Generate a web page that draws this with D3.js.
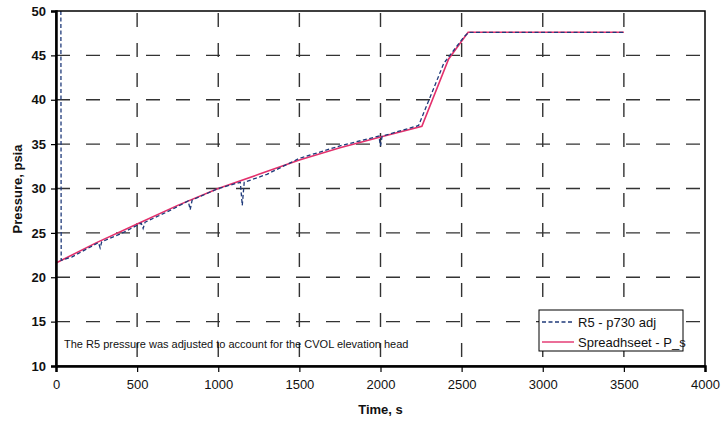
<!DOCTYPE html>
<html>
<head>
<meta charset="utf-8">
<script src="https://cdn.jsdelivr.net/npm/d3@7"></script>
<style>
  body { margin: 0; background: #fff; }
  text { font-family: "Liberation Sans", Arial, sans-serif; fill: #111; }
</style>
</head>
<body>
<div id="chart"></div>
<script>
// Spreadsheet series (solid pink)
const sheetTime = [0, 250, 500, 750, 1000, 1250, 1500, 1750, 2000, 2255, 2420, 2540, 3500];
const sheetP    = [21.6, 23.9, 26.0, 28.1, 30.0, 31.6, 33.2, 34.6, 35.8, 37.0, 44.6, 47.6, 47.6];

// R5 measured series (dashed navy)
const r5Time = [30, 32, 100, 200, 262, 272, 282, 400, 525, 537, 549, 700, 815, 827, 839, 1000,
                1136, 1148, 1160, 1300, 1500, 1750, 1990, 2000, 2010, 2235, 2390, 2515, 2545, 3500];
const r5P    = [50, 21.9, 22.3, 23.3, 23.9, 23.3, 24.0, 24.9, 26.1, 25.5, 26.2, 27.5, 28.6, 27.6, 28.7, 30.0,
                30.7, 28.1, 30.7, 31.6, 33.4, 34.8, 35.9, 34.8, 35.9, 37.1, 44.1, 47.1, 47.6, 47.6];

const xTicks = [0, 500, 1000, 1500, 2000, 2500, 3000, 3500, 4000];
const yTicks = [10, 15, 20, 25, 30, 35, 40, 45, 50];
const legendNames = ["R5 - p730 adj", "Spreadhseet - P_s"];
const note = "The R5 pressure was adjusted to account for the CVOL elevation head";

const W = 721, H = 422;
const margin = {top: 11, right: 16, bottom: 56, left: 56};
const w = W - margin.left - margin.right;
const h = H - margin.top - margin.bottom;

const svg = d3.select('#chart').append('svg')
  .attr('width', W).attr('height', H);

const g = svg.append('g')
  .attr('transform', `translate(${margin.left},${margin.top})`);

const xScale = d3.scaleLinear().domain([0, 4000]).range([0, w]);
const yScale = d3.scaleLinear().domain([10, 50]).range([h, 0]);

// grid lines
const gridColor = '#333';
g.append('g').selectAll('line')
  .data(yTicks.filter(d => d > 10 && d < 50))
  .enter().append('line')
    .attr('x1', 0).attr('x2', w)
    .attr('y1', d => yScale(d)).attr('y2', d => yScale(d))
    .attr('stroke', gridColor).attr('stroke-width', 1.4)
    .attr('stroke-dasharray', '14,16');

g.append('g').selectAll('line')
  .data(xTicks.filter(d => d > 0 && d < 4000))
  .enter().append('line')
    .attr('x1', d => xScale(d)).attr('x2', d => xScale(d))
    .attr('y1', 2).attr('y2', h)
    .attr('stroke', gridColor).attr('stroke-width', 1.4)
    .attr('stroke-dasharray', '14,16');

// series
const line = d3.line()
  .x(d => xScale(d[0]))
  .y(d => yScale(d[1]));

const r5Data = r5Time.map((t, i) => [t, r5P[i]]);
const sheetData = sheetTime.map((t, i) => [t, sheetP[i]]);

g.append('path')
  .attr('d', line(sheetData))
  .attr('fill', 'none')
  .attr('stroke', '#e3306c')
  .attr('stroke-width', 1.6);

g.append('path')
  .attr('d', line(r5Data))
  .attr('fill', 'none')
  .attr('stroke', '#1f3a7a')
  .attr('stroke-width', 1.3)
  .attr('stroke-dasharray', '4,2.5');

// frame
g.append('rect')
  .attr('x', 0).attr('y', 0).attr('width', w).attr('height', h)
  .attr('fill', 'none').attr('stroke', '#000').attr('stroke-width', 1.5);

// axes
const xAxis = d3.axisBottom(xScale).tickValues(xTicks).tickSize(6).tickPadding(8)
  .tickFormat(d3.format('d'));
const yAxis = d3.axisLeft(yScale).tickValues(yTicks).tickSize(5).tickPadding(5);

const xg = g.append('g').attr('transform', `translate(0,${h})`).call(xAxis);
const yg = g.append('g').call(yAxis);

[xg, yg].forEach(a => {
  a.select('.domain').attr('stroke', '#000').attr('stroke-width', 2.5);
  a.selectAll('.tick line').attr('stroke', '#000').attr('stroke-width', 1.2);
  a.selectAll('.tick text')
    .style('font-family', '"Liberation Sans", Arial, sans-serif')
    .style('font-size', '13px').attr('fill', '#111');
});
yg.selectAll('.tick text').style('font-weight', 'bold');

// axis titles
svg.append('text')
  .attr('x', margin.left + w / 2).attr('y', 414)
  .attr('text-anchor', 'middle')
  .style('font-size', '13px').style('font-weight', 'bold')
  .text('Time, s');

svg.append('text')
  .attr('transform', `translate(22,${189}) rotate(-90)`)
  .attr('text-anchor', 'middle')
  .style('font-size', '13px').style('font-weight', 'bold')
  .text('Pressure, psia');

// note
svg.append('text')
  .attr('x', 64).attr('y', 348)
  .style('font-size', '11px')
  .text(note);

// legend
const legend = svg.append('g').attr('transform', 'translate(539,310)');
legend.append('rect')
  .attr('width', 144).attr('height', 41)
  .attr('fill', '#fff').attr('stroke', '#000').attr('stroke-width', 1);

const legendStyles = [
  {stroke: '#1f3a7a', dash: '4,2.5'},
  {stroke: '#e3306c', dash: null}
];
legendNames.forEach((name, i) => {
  const yy = 12 + i * 20;
  legend.append('line')
    .attr('x1', 3).attr('x2', 35).attr('y1', yy).attr('y2', yy)
    .attr('stroke', legendStyles[i].stroke).attr('stroke-width', 1.4)
    .attr('stroke-dasharray', legendStyles[i].dash);
  legend.append('text')
    .attr('x', 39).attr('y', yy + 5)
    .style('font-size', '13px')
    .text(name);
});
</script>
</body>
</html>
